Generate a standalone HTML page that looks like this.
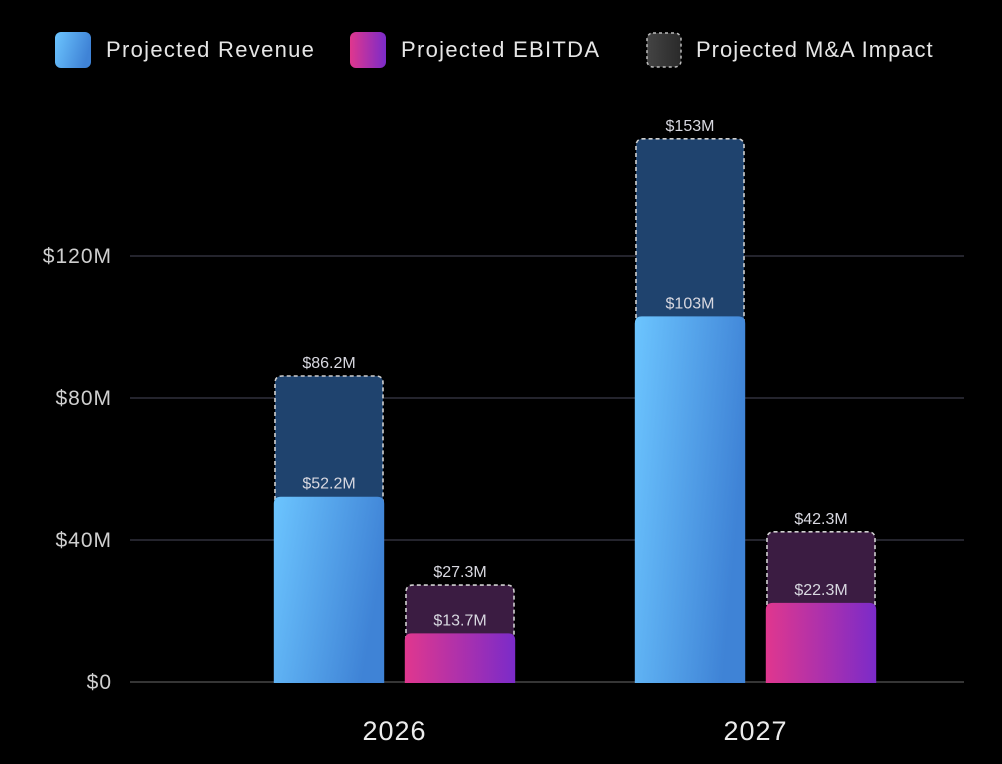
<!DOCTYPE html>
<html><head><meta charset="utf-8"><style>
html,body{margin:0;padding:0;background:#000;width:1002px;height:764px;overflow:hidden}
svg{display:block}
text{font-family:"Liberation Sans","DejaVu Sans",sans-serif}
</style></head><body>
<svg id="chart" width="1002" height="764">
<defs>
<linearGradient id="gRev" x1="0" y1="0" x2="1" y2="0.3"><stop offset="0" stop-color="#6cc5ff"/><stop offset="1" stop-color="#3f83d6"/></linearGradient>
<linearGradient id="gEb" x1="0" y1="0" x2="1" y2="0"><stop offset="0" stop-color="#e0378e"/><stop offset="1" stop-color="#7b2bc9"/></linearGradient>
<linearGradient id="gMa" x1="0" y1="0" x2="1" y2="0"><stop offset="0" stop-color="#444"/><stop offset="1" stop-color="#2a2a2a"/></linearGradient>
</defs>
<g>
<g><rect x="55" y="32" width="36" height="36" rx="6" fill="url(#gRev)"/><text x="106" y="57" fill="#e6e6e6" font-size="22" letter-spacing="1.3">Projected Revenue</text></g>
<g><rect x="350" y="32" width="36" height="36" rx="6" fill="url(#gEb)"/><text x="401" y="57" fill="#e6e6e6" font-size="22" letter-spacing="1.3">Projected EBITDA</text></g>
<g><rect x="647" y="33" width="34" height="34" rx="6" fill="url(#gMa)" stroke="#bbb" stroke-width="1.5" stroke-dasharray="3,3"/><text x="696" y="57" fill="#e6e6e6" font-size="22" letter-spacing="1">Projected M&amp;A Impact</text></g>
</g>
<g id="grid"></g><g id="bars"></g><g id="labels"></g>
</svg>
<script>
const categories=["2026","2027"];
const revenue=[52.2,103];
const ebitda=[13.7,22.3];
const revenueTotal=[86.2,153];
const ebitdaTotal=[27.3,42.3];
const revenueLabels=["$52.2M","$103M"];
const ebitdaLabels=["$13.7M","$22.3M"];
const revenueTotalLabels=["$86.2M","$153M"];
const ebitdaTotalLabels=["$27.3M","$42.3M"];
const yTicks=[0,40,80,120];
const yTickLabels=["$0","$40M","$80M","$120M"];

const NS="http://www.w3.org/2000/svg";
const y0=682,pxPer=142/40;
const y=v=>y0-v*pxPer;
const groupX=i=>275+i*361;
const barW=108,gap=23;
function mk(tag,attrs,parent){const e=document.createElementNS(NS,tag);for(const k in attrs)e.setAttribute(k,attrs[k]);parent.appendChild(e);return e;}
const grid=document.getElementById('grid'),bars=document.getElementById('bars'),labels=document.getElementById('labels');
yTicks.forEach((t,i)=>{
  const l=mk('line',{x1:130,x2:964,y1:y(t),y2:y(t),stroke:t===0?'#555':'#3a3a48','stroke-width':1.2},grid);
  
  
  const tx=mk('text',{x:112,y:y(t)+7,'text-anchor':'end',fill:'#cfcfcf','font-size':21,'letter-spacing':1},grid);
  tx.textContent=yTickLabels[i];
  
  
});
function path(x,top,w,bottom,r){return `M${x},${bottom}V${top+r}Q${x},${top} ${x+r},${top}H${x+w-r}Q${x+w},${top} ${x+w},${top+r}V${bottom}Z`;}
function lab(x,yy,s){const t=mk('text',{x:x,y:yy,'text-anchor':'middle',fill:'#d8d8e0','font-size':16},labels);t.textContent=s;}
categories.forEach((c,i)=>{
  const sets=[[revenue[i],revenueTotal[i],'url(#gRev)','#1f436e',revenueLabels[i],revenueTotalLabels[i],'revenue'],
              [ebitda[i],ebitdaTotal[i],'url(#gEb)','#3b1c42',ebitdaLabels[i],ebitdaTotalLabels[i],'ebitda']];
  sets.forEach((s,j)=>{
    const x=groupX(i)+j*(barW+gap);
    const ma=mk('path',{d:path(x,y(s[1]),barW,y0,7),fill:s[3],stroke:'#d0d0d0','stroke-width':1.6,'stroke-dasharray':'4,3'},bars);
    
    
    const b=mk('path',{d:path(x-1.2,y(s[0]),barW+2.4,y0+1,7),fill:s[2]},bars);
    
    
    lab(x+barW/2,y(s[0])-8,s[4]);
    lab(x+barW/2,y(s[1])-8,s[5]);
  });
  const t=mk('text',{x:groupX(i)+barW+gap/2,y:740,'text-anchor':'middle',fill:'#ececec','font-size':27,'letter-spacing':1},labels);
  t.textContent=c;
  
  
});
</script>
</body></html>
